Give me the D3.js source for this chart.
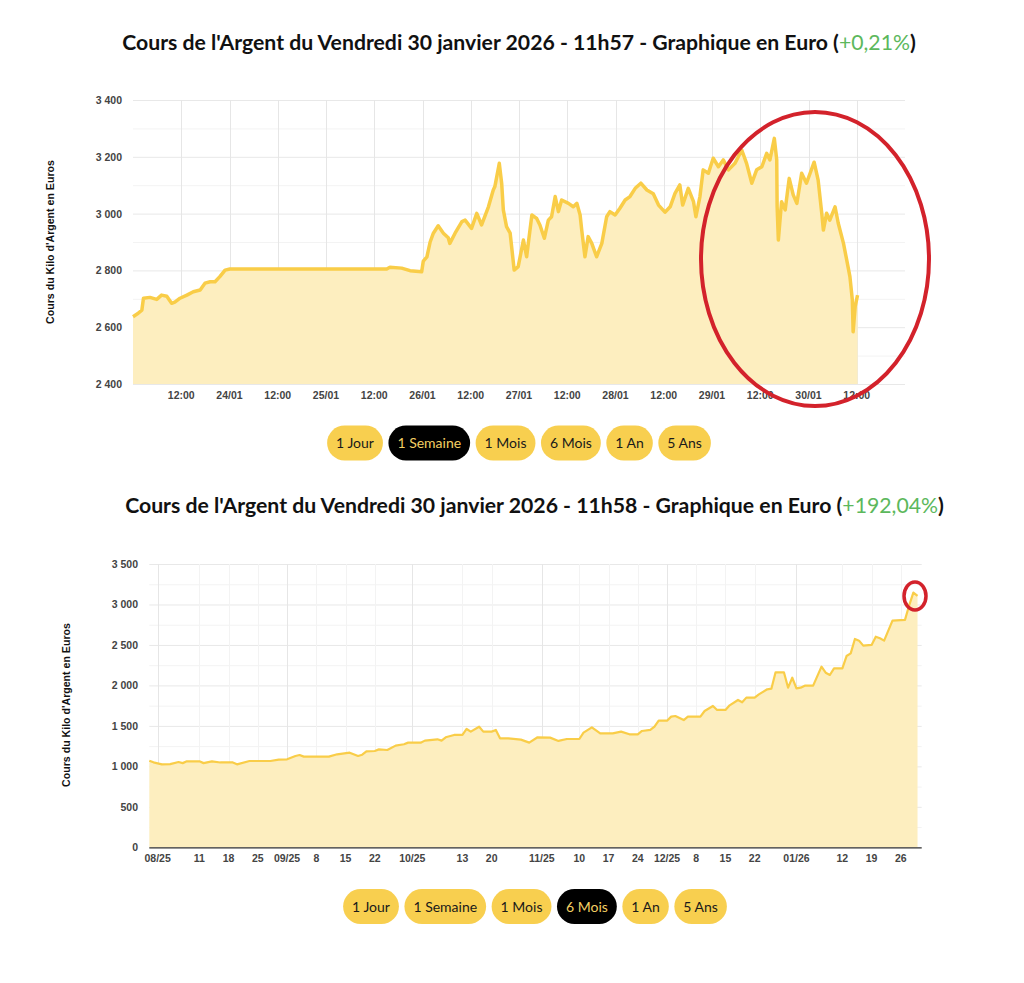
<!DOCTYPE html>
<html lang="fr">
<head>
<meta charset="utf-8">
<title>Cours de l'Argent</title>
<script src="https://cdn.jsdelivr.net/npm/d3@7"></script>
<style>
    body { margin: 0; background: #fff; }
    svg { display: block; }
    .tick-lbl { font-family: "Liberation Sans", Arial, sans-serif; font-weight: bold; font-size: 10.5px; fill: #444; }
    .axis-title { font-family: "Liberation Sans", Arial, sans-serif; font-weight: bold; font-size: 10.6px; fill: #111; }
    .title { font-family: Lato, "Open Sans", sans-serif; font-weight: bold; fill: #111; }
    .btn-lbl { font-family: Lato, "Open Sans", sans-serif; font-size: 14px; }
</style>
</head>
<body>
<div id="chart"></div>
<script>
// ---- 1 semaine : heures depuis le 23/01/2026 00:00, cours du kilo en euros
const weekStart = new Date(2026, 0, 23);
const weekHours = [0, 1.3, 2.2, 2.6, 4.2, 5.9, 7.1, 8.4, 9.6, 10.4,
    11.7, 13.4, 15, 16.7, 17.9, 19.2, 20.4, 21.6, 22.9, 24.1,
    63.1, 63.9, 66.8, 68.9, 71.8, 72.2, 73.1, 73.9, 74.7, 75.9,
    77.2, 78.4, 78.8, 80.1, 81.8, 82.6, 84.2, 85.5, 86.7, 88.4,
    89.6, 90.0, 91.1, 91.7, 92.1, 92.9, 93.8, 94.8, 95.8, 97.1,
    97.9, 99.2, 100.4, 101.2, 102.3, 103.3, 104.1, 105.0, 105.8, 106.6,
    108.3, 109.5, 110.4, 111.2, 111.6, 112.4, 113.2, 114.1, 115.3, 116.6,
    117.8, 118.6, 119.9, 121.1, 122.4, 123.6, 124.9, 126.3, 127.8, 129.4,
    130.7, 132.3, 133.6, 134.8, 136.0, 136.7, 138.1, 139.4, 140.0, 141.0,
    141.8, 143.1, 144.3, 145.6, 146.8, 148.1, 149.7, 151.4, 152.6, 153.9,
    155.1, 156.4, 157.6, 158.4, 159.5, 160.1, 160.2, 160.5, 161.3, 162.2,
    163.2, 164.2, 165.1, 166.3, 167.5, 168.4, 169.4, 170.4, 171.3, 171.7,
    172.5, 173.3, 174.6, 175.4, 176.7, 177.5, 178.3, 178.9, 179.1, 179.6,
    180.2];
const weekValues = [2637, 2649, 2660, 2702, 2705, 2698, 2713, 2709, 2684, 2688,
    2702, 2713, 2725, 2731, 2755, 2760, 2760, 2778, 2801, 2805,
    2805, 2811, 2808, 2799, 2795, 2833, 2848, 2900, 2931, 2957,
    2931, 2915, 2895, 2931, 2972, 2977, 2948, 3001, 2960, 3024,
    3083, 3095, 3177, 3105, 3013, 2954, 2931, 2801, 2813, 2907,
    2848, 2995, 2983, 2960, 2913, 2977, 2989, 3060, 3007, 3048,
    3036, 3024, 3036, 2995, 2942, 2848, 2919, 2895, 2848, 2895,
    2989, 3007, 2995, 3019, 3048, 3060, 3089, 3107, 3083, 3070,
    3030, 3005, 3024, 3071, 3101, 3030, 3089, 3042, 2989, 3060,
    3154, 3142, 3195, 3165, 3189, 3154, 3177, 3224, 3177, 3107,
    3154, 3165, 3212, 3189, 3265, 3189, 3024, 2907, 3042, 3013,
    3124, 3066, 3036, 3142, 3107, 3142, 3181, 3118, 3001, 2942,
    3001, 2977, 3024, 2966, 2895, 2837, 2778, 2696, 2584, 2672,
    2713];
const weekYTicks = [2400, 2600, 2800, 3000, 3200, 3400];

// ---- 6 mois
const sixDates = ["2025-07-30", "2025-07-31", "2025-08-02", "2025-08-04", "2025-08-06", "2025-08-07", "2025-08-08", "2025-08-11", "2025-08-12", "2025-08-14",
    "2025-08-16", "2025-08-19", "2025-08-20", "2025-08-23", "2025-08-28", "2025-08-30", "2025-09-01", "2025-09-03", "2025-09-04", "2025-09-05",
    "2025-09-11", "2025-09-13", "2025-09-16", "2025-09-18", "2025-09-19", "2025-09-20", "2025-09-22", "2025-09-23", "2025-09-25", "2025-09-27",
    "2025-09-29", "2025-09-30", "2025-10-03", "2025-10-04", "2025-10-07", "2025-10-08", "2025-10-09", "2025-10-11", "2025-10-13", "2025-10-14",
    "2025-10-15", "2025-10-17", "2025-10-18", "2025-10-20", "2025-10-21", "2025-10-22", "2025-10-24", "2025-10-27", "2025-10-29", "2025-10-31",
    "2025-11-03", "2025-11-05", "2025-11-07", "2025-11-10", "2025-11-11", "2025-11-13", "2025-11-15", "2025-11-18", "2025-11-20", "2025-11-22",
    "2025-11-24", "2025-11-25", "2025-11-27", "2025-11-28", "2025-11-29", "2025-12-01", "2025-12-02", "2025-12-03", "2025-12-05", "2025-12-06",
    "2025-12-09", "2025-12-10", "2025-12-12", "2025-12-13", "2025-12-15", "2025-12-16", "2025-12-18", "2025-12-19", "2025-12-20", "2025-12-22",
    "2025-12-23", "2025-12-25", "2025-12-26", "2025-12-27", "2025-12-29", "2025-12-30", "2025-12-31", "2026-01-01", "2026-01-02", "2026-01-03",
    "2026-01-05", "2026-01-07", "2026-01-08", "2026-01-09", "2026-01-10", "2026-01-12", "2026-01-13", "2026-01-14", "2026-01-15", "2026-01-16",
    "2026-01-17", "2026-01-19", "2026-01-20", "2026-01-21", "2026-01-22", "2026-01-24", "2026-01-27", "2026-01-28", "2026-01-29", "2026-01-30"];
const sixValues = [1070, 1050, 1025, 1027, 1054, 1040, 1062, 1062, 1040, 1062,
    1048, 1048, 1025, 1066, 1066, 1083, 1087, 1128, 1140, 1120,
    1120, 1149, 1169, 1128, 1144, 1186, 1190, 1210, 1202, 1256,
    1273, 1293, 1293, 1318, 1334, 1318, 1359, 1388, 1388, 1462,
    1429, 1490, 1429, 1429, 1450, 1346, 1346, 1330, 1293, 1359,
    1355, 1314, 1338, 1338, 1416, 1482, 1408, 1408, 1429, 1396,
    1396, 1437, 1450, 1490, 1564, 1564, 1614, 1622, 1572, 1614,
    1614, 1684, 1746, 1697, 1697, 1754, 1820, 1791, 1849, 1849,
    1890, 1952, 1960, 2162, 2162, 1972, 2095, 1964, 1972, 1997,
    1997, 2232, 2157, 2129, 2211, 2211, 2363, 2396, 2574, 2553,
    2491, 2500, 2602, 2582, 2553, 2800, 2810, 2990, 3146, 3105];
const sixTickDates = ["2025-08-01", "2025-08-11", "2025-08-18", "2025-08-25", "2025-09-01", "2025-09-08", "2025-09-15", "2025-09-22",
    "2025-10-01", "2025-10-13", "2025-10-20", "2025-11-01", "2025-11-10", "2025-11-17", "2025-11-24", "2025-12-01",
    "2025-12-08", "2025-12-15", "2025-12-22", "2026-01-01", "2026-01-12", "2026-01-19", "2026-01-26"];
const sixTickLabels = ["08/25", "11", "18", "25", "09/25", "8", "15", "22", "10/25", "13", "20", "11/25",
    "10", "17", "24", "12/25", "8", "15", "22", "01/26", "12", "19", "26"];
const sixYTicks = [0, 500, 1000, 1500, 2000, 2500, 3000, 3500];

const buttonLabels = ["1 Jour", "1 Semaine", "1 Mois", "6 Mois", "1 An", "5 Ans"];

const LINE = "#f9cd48";
const FILL = "#fdeebf";
const RED = "#d3222b";

const frFmt = d3.formatLocale({ decimal: ",", thousands: "\u00a0", grouping: [3], currency: ["", " €"] }).format(",");
const parseDay = d3.timeParse("%Y-%m-%d");

const svg = d3.select("#chart").append("svg")
    .attr("width", 1024)
    .attr("height", 983);

function drawTitle(cfg) {
    const t = svg.append("text")
        .attr("class", "title")
        .attr("x", cfg.cx)
        .attr("y", cfg.y)
        .attr("text-anchor", "middle")
        .style("font-size", "21px");
    t.append("tspan").text(cfg.text + " (");
    t.append("tspan").attr("fill", "#5cb85c").style("font-weight", "normal").text(cfg.change);
    t.append("tspan").text(")");
    // ajuster la taille à la largeur du titre d'origine
    const w = t.node().getComputedTextLength();
    t.style("font-size", (21 * cfg.width / w) + "px");
}

function drawButtons(cx, cy, active) {
    const g = svg.append("g");
    const pad = 9, gap = 5.5, h = 35;
    const items = buttonLabels.map(lbl => {
        const tmp = g.append("text").attr("class", "btn-lbl").text(lbl);
        const w = tmp.node().getComputedTextLength();
        tmp.remove();
        return { lbl, w: w + 2 * pad };
    });
    const total = d3.sum(items, d => d.w) + gap * (items.length - 1);
    let x = cx - total / 2;
    items.forEach(it => {
        const on = it.lbl === active;
        g.append("rect")
            .attr("x", x).attr("y", cy - h / 2)
            .attr("width", it.w).attr("height", h)
            .attr("rx", h / 2)
            .attr("fill", on ? "#000" : "#f8cf4f");
        g.append("text")
            .attr("class", "btn-lbl")
            .attr("x", x + it.w / 2).attr("y", cy + 5)
            .attr("text-anchor", "middle")
            .attr("fill", on ? "#f3cf63" : "#1a1a1a")
            .text(it.lbl);
        x += it.w + gap;
    });
}

function drawPanel(cfg) {
    const g = svg.append("g");
    const x = cfg.x, y = cfg.y;
    const [x0, x1] = x.range();
    const [yb, yt] = y.range();

    // grille horizontale (mineure puis majeure)
    g.selectAll(".hminor").data(cfg.yMinor).enter().append("line")
        .attr("x1", x0).attr("x2", x1)
        .attr("y1", d => y(d) + 0.5).attr("y2", d => y(d) + 0.5)
        .attr("stroke", "#f3f3f3");
    g.selectAll(".hmajor").data(cfg.yTicks).enter().append("line")
        .attr("x1", x0).attr("x2", x1)
        .attr("y1", d => y(d) + 0.5).attr("y2", d => y(d) + 0.5)
        .attr("stroke", "#e8e8e8");

    // grille verticale
    g.selectAll(".vgrid").data(cfg.xGrid).enter().append("line")
        .attr("x1", d => Math.round(x(d.t)) + 0.5).attr("x2", d => Math.round(x(d.t)) + 0.5)
        .attr("y1", yt).attr("y2", yb)
        .attr("stroke", d => d.strong ? "#e6e6e6" : "#f3f3f3");

    const pts = cfg.dates.map((t, i) => ({ t, v: cfg.values[i] }));
    g.append("path")
        .datum(pts)
        .attr("fill", FILL)
        .attr("d", d3.area().x(d => x(d.t)).y0(yb).y1(d => y(d.v)));
    g.append("path")
        .datum(pts)
        .attr("fill", "none")
        .attr("stroke", LINE)
        .attr("stroke-width", cfg.lineWidth)
        .attr("stroke-linejoin", "round")
        .attr("d", d3.line().x(d => x(d.t)).y(d => y(d.v)));

    if (cfg.baseLine) {
        g.append("line")
            .attr("x1", x0).attr("x2", x1)
            .attr("y1", yb + 0.5).attr("y2", yb + 0.5)
            .attr("stroke", "#333").attr("stroke-width", 1.2);
    }

    // étiquettes Y
    g.selectAll(".ylbl").data(cfg.yTicks).enter().append("text")
        .attr("class", "tick-lbl")
        .attr("x", cfg.yLabelX).attr("y", d => y(d) + 4)
        .attr("text-anchor", "end")
        .text(d => frFmt(d));

    // étiquettes X
    g.selectAll(".xlbl").data(cfg.xLabels).enter().append("text")
        .attr("class", "tick-lbl")
        .attr("x", d => x(d.t)).attr("y", yb + 15)
        .attr("text-anchor", "middle")
        .text(d => d.label);

    g.append("text")
        .attr("class", "axis-title")
        .attr("transform", `translate(${cfg.axisTitleX},${cfg.axisTitleY}) rotate(-90)`)
        .attr("text-anchor", "middle")
        .text("Cours du Kilo d'Argent en Euros");
}

// ---------- graphique 1 semaine
const weekDates = weekHours.map(h => new Date(weekStart.getTime() + h * 3600e3));
const weekEnd = d3.timeDay.offset(weekStart, 8);
const xWeek = d3.scaleTime().domain([weekStart, weekEnd]).range([133, 905]);
const yWeek = d3.scaleLinear().domain([2400, 3400]).range([384, 100]);
const weekTicks = d3.timeHour.every(12).range(d3.timeHour.offset(weekStart, 12), weekEnd);
const fmtDay = d3.timeFormat("%d/%m"), fmtHour = d3.timeFormat("%H:%M");

drawTitle({ cx: 519, y: 50, width: 794, text: "Cours de l'Argent du Vendredi 30 janvier 2026 - 11h57 - Graphique en Euro", change: "+0,21%" });
drawPanel({
    x: xWeek, y: yWeek,
    dates: weekDates, values: weekValues,
    yTicks: weekYTicks,
    yMinor: d3.range(2500, 3400, 200),
    xGrid: weekTicks.map(t => ({ t, strong: true })),
    xLabels: weekTicks.map(t => ({ t, label: t.getHours() === 0 ? fmtDay(t) : fmtHour(t) })),
    yLabelX: 122, axisTitleX: 54, axisTitleY: 242,
    lineWidth: 3.5, baseLine: false
});
drawButtons(519, 443, "1 Semaine");

// ---------- graphique 6 mois
const xSix = d3.scaleTime().domain([parseDay("2025-07-30"), parseDay("2026-01-31")]).range([149.3, 921.7]);
const ySix = d3.scaleLinear().domain([0, 3500]).range([847.3, 564]);
const sixTicks = sixTickDates.map(parseDay);

drawTitle({ cx: 534.5, y: 513, width: 819, text: "Cours de l'Argent du Vendredi 30 janvier 2026 - 11h58 - Graphique en Euro", change: "+192,04%" });
drawPanel({
    x: xSix, y: ySix,
    dates: sixDates.map(parseDay), values: sixValues,
    yTicks: sixYTicks,
    yMinor: d3.range(250, 3500, 500),
    xGrid: sixTicks.map((t, i) => ({ t, strong: sixTickLabels[i].includes("/") })),
    xLabels: sixTicks.map((t, i) => ({ t, label: sixTickLabels[i] })),
    yLabelX: 138, axisTitleX: 70, axisTitleY: 705,
    lineWidth: 2.2, baseLine: true
});
drawButtons(535, 906.5, "6 Mois");

// annotations rouges
svg.append("ellipse")
    .attr("cx", 815).attr("cy", 259).attr("rx", 114).attr("ry", 147)
    .attr("fill", "none").attr("stroke", RED).attr("stroke-width", 4);
svg.append("ellipse")
    .attr("cx", 915).attr("cy", 596).attr("rx", 11).attr("ry", 14)
    .attr("fill", "none").attr("stroke", RED).attr("stroke-width", 3.5);
</script>
</body>
</html>
